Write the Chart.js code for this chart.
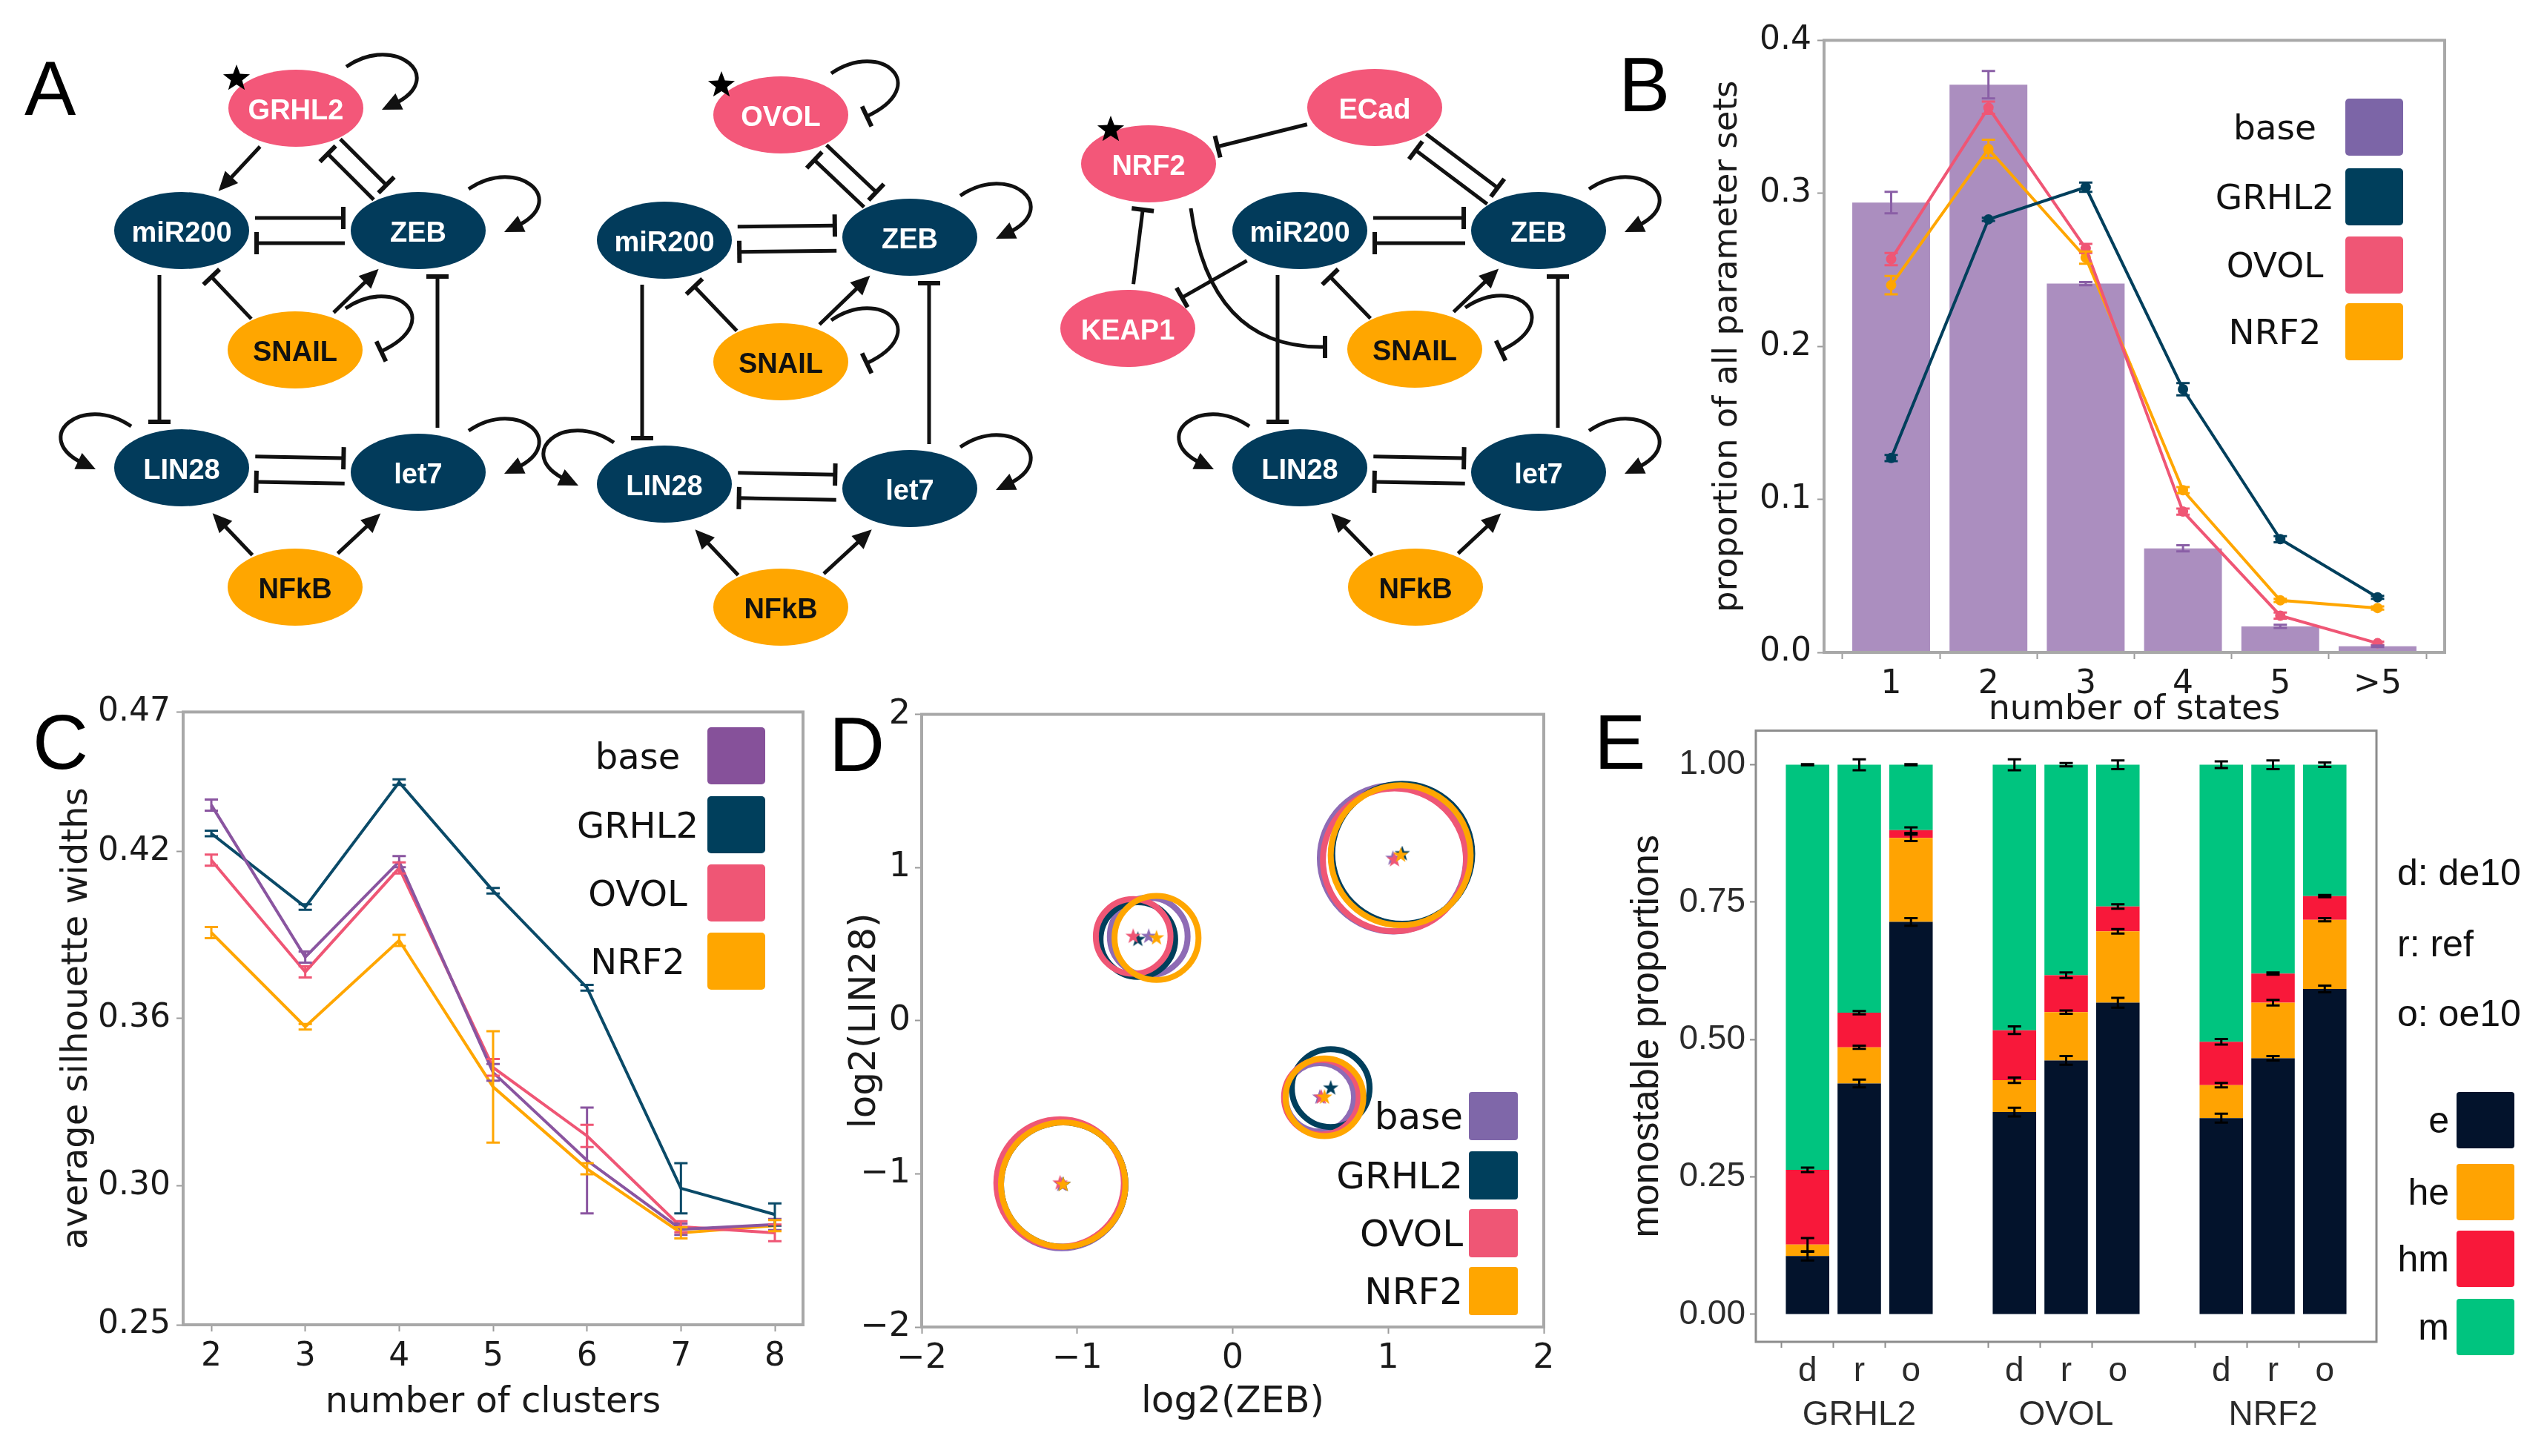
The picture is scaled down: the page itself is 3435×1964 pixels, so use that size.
<!doctype html>
<html lang="en">
<head>
<meta charset="utf-8">
<title>Panels A-E</title>
<style>
  * { margin: 0; padding: 0; }
  body { width: 3435px; height: 1964px; background: #fff; position: relative; overflow: hidden; }
  canvas { position: absolute; }
  #overlay { position: absolute; left: 0; top: 0; pointer-events: none; }
</style>
</head>
<body>
<canvas id="chartB"></canvas>
<canvas id="chartC"></canvas>
<canvas id="chartD"></canvas>
<canvas id="chartE"></canvas>
<svg id="overlay" width="3435" height="1964" xmlns="http://www.w3.org/2000/svg"></svg>
<script src="https://cdn.jsdelivr.net/npm/chart.js/dist/chart.umd.min.js"></script>
<script>
// ---- data: panel B (number of states) ----
const stateLabels = ['1', '2', '3', '4', '5', '>5'];
const baseStates = [0.294, 0.371, 0.241, 0.068, 0.017, 0.004];
const baseStatesErr = [0.007, 0.009, 0.001, 0.002, 0.001, 0.0005];
const grhl2States = [0.127, 0.283, 0.304, 0.172, 0.074, 0.036];
const grhl2StatesErr = [0.002, 0.001, 0.003, 0.004, 0.002, 0.001];
const ovolStates = [0.257, 0.356, 0.264, 0.092, 0.024, 0.006];
const ovolStatesErr = [0.004, 0.004, 0.003, 0.002, 0.002, 0.001];
const nrf2States = [0.240, 0.329, 0.258, 0.106, 0.034, 0.029];
const nrf2StatesErr = [0.006, 0.006, 0.004, 0.002, 0.001, 0.001];

// ---- data: panel C (silhouette widths) ----
const clusterCounts = [2, 3, 4, 5, 6, 7, 8];
const silTicks = [0.25, 0.30, 0.36, 0.42, 0.47];
const baseSil = [0.4366, 0.382, 0.4163, 0.3406, 0.309, 0.2843, 0.286];
const baseSilErr = [0.002, 0.002, 0.002, 0.003, 0.019, 0.002, 0.002];
const grhl2Sil = [0.4264, 0.400, 0.4448, 0.4058, 0.371, 0.299, 0.2896];
const grhl2SilErr = [0.001, 0.001, 0.001, 0.001, 0.001, 0.009, 0.004];
const ovolSil = [0.4168, 0.3767, 0.414, 0.3424, 0.3178, 0.2852, 0.283];
const ovolSilErr = [0.002, 0.002, 0.002, 0.003, 0.004, 0.002, 0.003];
const nrf2Sil = [0.3908, 0.357, 0.388, 0.3354, 0.306, 0.283, 0.2856];
const nrf2SilErr = [0.002, 0.001, 0.002, 0.020, 0.002, 0.002, 0.002];

// ---- data: panel D (cluster centres and radii, log2 units) ----
const baseZeb = [-1.10, -0.54, 0.56, 1.03];
const baseLin = [-1.07, 0.55, -0.50, 1.06];
const baseRad = [0.41, 0.25, 0.22, 0.47];
const grhl2Zeb = [-1.09, -0.61, 0.63, 1.09];
const grhl2Lin = [-1.07, 0.53, -0.44, 1.09];
const grhl2Rad = [0.40, 0.24, 0.25, 0.45];
const ovolZeb = [-1.11, -0.64, 0.57, 1.04];
const ovolLin = [-1.06, 0.55, -0.50, 1.05];
const ovolRad = [0.41, 0.24, 0.24, 0.46];
const nrf2Zeb = [-1.09, -0.49, 0.59, 1.08];
const nrf2Lin = [-1.07, 0.54, -0.50, 1.08];
const nrf2Rad = [0.40, 0.27, 0.25, 0.45];

// ---- data: panel E (monostable proportions, cumulative tops) ----
const eGroups = ['GRHL2', 'OVOL', 'NRF2'];
const eConds = ['d', 'r', 'o'];
const eTop = [0.106, 0.420, 0.714, 0.368, 0.462, 0.567, 0.357, 0.466, 0.592];
const heTop = [0.127, 0.486, 0.867, 0.426, 0.550, 0.697, 0.417, 0.567, 0.718];
const hmTop = [0.263, 0.549, 0.881, 0.517, 0.617, 0.742, 0.496, 0.620, 0.761];
const mTop = [1, 1, 1, 1, 1, 1, 1, 1, 1];
const eTopErr = [0.008, 0.007, 0.007, 0.008, 0.008, 0.009, 0.008, 0.004, 0.006];
const heTopErr = [0.012, 0.003, 0.006, 0.005, 0.003, 0.004, 0.004, 0.005, 0.003];
const hmTopErr = [0.004, 0.003, 0.005, 0.007, 0.005, 0.004, 0.005, 0.002, 0.002];
const mTopErr = [0.001, 0.010, 0.001, 0.010, 0.003, 0.008, 0.006, 0.008, 0.004];

const COL = { base: '#8a55a0', grhl2: '#003f5c', ovol: '#ef5675', nrf2: '#ffa600' };
const ARIAL = '"Liberation Sans", Arial, sans-serif';

Chart.defaults.font.family = '"DejaVu Sans", sans-serif';
Chart.defaults.color = '#1a1a1a';
Chart.defaults.animation = false;

function place(id, left, top, w, h) {
  const c = document.getElementById(id);
  c.width = w; c.height = h;
  c.style.left = left + 'px'; c.style.top = top + 'px';
  c.style.width = w + 'px'; c.style.height = h + 'px';
  return c;
}

// box round the plot area
const frame = {
  id: 'frame',
  afterDatasetsDraw(chart, args, o) {
    const { ctx, chartArea: a } = chart;
    ctx.save();
    ctx.strokeStyle = o.color || '#ababab';
    ctx.lineWidth = o.width || 4;
    ctx.strokeRect(a.left, a.top, a.right - a.left, a.bottom - a.top);
    ctx.restore();
  }
};

// vertical error bars from dataset.errors (and dataset.tops for stacked bars)
const errorBars = {
  id: 'errorBars',
  afterDatasetsDraw(chart, args, o) {
    const ctx = chart.ctx, y = chart.scales.y;
    ctx.save();
    chart.data.datasets.forEach((ds, di) => {
      if (!ds.errors) return;
      const meta = chart.getDatasetMeta(di);
      meta.data.forEach((el, i) => {
        let v = ds.tops ? ds.tops[i] : ds.data[i];
        if (v && typeof v === 'object') v = v.y;
        const e = ds.errors[i];
        if (v == null || e == null) return;
        const y1 = y.getPixelForValue(v - e), y2 = y.getPixelForValue(v + e);
        const cap = o.cap || 9;
        ctx.strokeStyle = ds.errColor || ds.borderColor;
        ctx.lineWidth = o.width || 3;
        ctx.beginPath();
        ctx.moveTo(el.x, y1); ctx.lineTo(el.x, y2);
        ctx.moveTo(el.x - cap, y1); ctx.lineTo(el.x + cap, y1);
        ctx.moveTo(el.x - cap, y2); ctx.lineTo(el.x + cap, y2);
        ctx.stroke();
      });
    });
    ctx.restore();
  }
};

const tickGrid = { display: true, drawOnChartArea: false, drawTicks: true, tickLength: 9, tickWidth: 2, tickColor: '#9a9a9a', color: 'rgba(0,0,0,0)' };
const pts = arr => arr.map((v, i) => ({ x: i, y: v }));

// ---------------- panel B ----------------
new Chart(place('chartB', 2260, 20, 1077, 970), {
  type: 'bar',
  data: {
    datasets: [
      { type: 'line', label: 'GRHL2', data: pts(grhl2States), errors: grhl2StatesErr, borderColor: COL.grhl2, backgroundColor: COL.grhl2, borderWidth: 4, pointRadius: 5, order: 1 },
      { type: 'line', label: 'OVOL', data: pts(ovolStates), errors: ovolStatesErr, borderColor: COL.ovol, backgroundColor: COL.ovol, borderWidth: 4, pointRadius: 5, order: 2 },
      { type: 'line', label: 'NRF2', data: pts(nrf2States), errors: nrf2StatesErr, borderColor: COL.nrf2, backgroundColor: COL.nrf2, borderWidth: 4, pointRadius: 5, order: 3 },
      { type: 'bar', label: 'base', data: pts(baseStates), errors: baseStatesErr, errColor: '#8a5fa6', backgroundColor: 'rgba(128,84,158,0.66)', barPercentage: 0.8, categoryPercentage: 1, order: 4 }
    ]
  },
  options: {
    responsive: false, devicePixelRatio: 1,
    layout: { padding: { top: 30, right: 40, left: 0, bottom: 0 } },
    plugins: { legend: { display: false }, tooltip: { enabled: false }, frame: { color: '#a8a8a8', width: 4 } },
    scales: {
      x: {
        type: 'linear', min: -0.69, max: 5.69, offset: false,
        afterBuildTicks: s => { s.ticks = stateLabels.map((l, i) => ({ value: i })); },
        afterFit: s => { s.height = 110; },
        ticks: { callback: v => stateLabels[v], font: { size: 44 }, padding: 8, maxRotation: 0 },
        grid: tickGrid, border: { display: false },
        title: { display: true, text: 'number of states', font: { size: 46 }, padding: { top: 0, bottom: 4 } }
      },
      y: {
        min: 0, max: 0.4,
        afterBuildTicks: s => { s.ticks = [0, 0.1, 0.2, 0.3, 0.4].map(v => ({ value: v })); },
        afterFit: s => { s.width = 200; },
        ticks: { callback: v => v.toFixed(1), font: { size: 44 }, padding: 8 },
        grid: tickGrid, border: { display: false },
        title: { display: true, text: 'proportion of all parameter sets', font: { size: 45 }, padding: { top: 43, bottom: 0 } }
      }
    }
  },
  plugins: [frame, errorBars]
});

// ---------------- panel C ----------------
const cpts = arr => arr.map((v, i) => ({ x: clusterCounts[i], y: v }));
new Chart(place('chartC', 20, 926, 1103, 1009), {
  type: 'line',
  data: {
    datasets: [
      { label: 'base', data: cpts(baseSil), errors: baseSilErr, borderColor: COL.base, borderWidth: 4, pointRadius: 0 },
      { label: 'GRHL2', data: cpts(grhl2Sil), errors: grhl2SilErr, borderColor: '#0a4a68', borderWidth: 4, pointRadius: 0 },
      { label: 'OVOL', data: cpts(ovolSil), errors: ovolSilErr, borderColor: COL.ovol, borderWidth: 4, pointRadius: 0 },
      { label: 'NRF2', data: cpts(nrf2Sil), errors: nrf2SilErr, borderColor: COL.nrf2, borderWidth: 4, pointRadius: 0 }
    ]
  },
  options: {
    responsive: false, devicePixelRatio: 1,
    layout: { padding: { top: 30, right: 40, left: 0, bottom: 0 } },
    plugins: { legend: { display: false }, tooltip: { enabled: false }, frame: { color: '#a8a8a8', width: 4 } },
    scales: {
      x: {
        type: 'linear', min: 1.7, max: 8.3,
        afterBuildTicks: s => { s.ticks = clusterCounts.map(v => ({ value: v })); },
        afterFit: s => { s.height = 148; },
        ticks: { callback: v => String(v), font: { size: 44 }, padding: 8, maxRotation: 0 },
        grid: tickGrid, border: { display: false },
        title: { display: true, text: 'number of clusters', font: { size: 48 }, padding: { top: 0, bottom: 14 } }
      },
      y: {
        min: 0.25, max: 0.47,
        afterBuildTicks: s => { s.ticks = silTicks.map(v => ({ value: v })); },
        afterFit: s => { s.width = 227; },
        ticks: { callback: v => v.toFixed(2), font: { size: 44 }, padding: 8 },
        grid: tickGrid, border: { display: false },
        title: { display: true, text: 'average silhouette widths', font: { size: 48 }, padding: { top: 56, bottom: 0 } }
      }
    }
  },
  plugins: [frame, errorBars]
});

// ---------------- panel D ----------------
function starImage(color, size) {
  const c = document.createElement('canvas');
  c.width = c.height = size;
  const g = c.getContext('2d');
  g.fillStyle = color;
  g.beginPath();
  for (let i = 0; i < 10; i++) {
    const ang = -Math.PI / 2 + i * Math.PI / 5;
    const rr = i % 2 === 0 ? size / 2 : size / 5;
    g.lineTo(size / 2 + rr * Math.cos(ang), size / 2 + rr * Math.sin(ang));
  }
  g.closePath();
  g.fill();
  return c;
}
const pxPerUnit = chart => Math.abs(chart.scales.x.getPixelForValue(1) - chart.scales.x.getPixelForValue(0));
const dSeries = [
  { name: 'base', zeb: baseZeb, lin: baseLin, rad: baseRad, color: '#8e6bb5' },
  { name: 'GRHL2', zeb: grhl2Zeb, lin: grhl2Lin, rad: grhl2Rad, color: COL.grhl2 },
  { name: 'OVOL', zeb: ovolZeb, lin: ovolLin, rad: ovolRad, color: COL.ovol },
  { name: 'NRF2', zeb: nrf2Zeb, lin: nrf2Lin, rad: nrf2Rad, color: COL.nrf2 }
];
const dSets = [];
// later series drawn on top (lower order = drawn last)
dSeries.forEach((s, i) => {
  dSets.push({
    label: s.name,
    order: 10 - i,
    data: s.zeb.map((x, k) => ({ x, y: s.lin[k], r: s.rad[k] })),
    pointRadius: ctx => ctx.raw ? ctx.raw.r * pxPerUnit(ctx.chart) : 0,
    pointBorderWidth: 8, pointBorderColor: s.color, pointBackgroundColor: 'rgba(0,0,0,0)'
  });
});
dSeries.forEach((s, i) => {
  dSets.push({
    label: s.name + ' centre',
    order: 4 - i,
    data: s.zeb.map((x, k) => ({ x, y: s.lin[k] })),
    pointStyle: starImage(s.color, 22), pointRadius: 11
  });
});
const minus = v => String(v).replace('-', '\u2212');
new Chart(place('chartD', 1100, 930, 1022, 1005), {
  type: 'scatter',
  data: { datasets: dSets },
  options: {
    responsive: false, devicePixelRatio: 1,
    layout: { padding: { top: 30, right: 40, left: 0, bottom: 0 } },
    plugins: { legend: { display: false }, tooltip: { enabled: false }, frame: { color: '#a8a8a8', width: 4 } },
    scales: {
      x: {
        type: 'linear', min: -2, max: 2,
        afterBuildTicks: s => { s.ticks = [-2, -1, 0, 1, 2].map(v => ({ value: v })); },
        afterFit: s => { s.height = 145; },
        ticks: { callback: minus, font: { size: 46 }, padding: 6, maxRotation: 0 },
        grid: tickGrid, border: { display: false },
        title: { display: true, text: 'log2(ZEB)', font: { size: 50 }, padding: { top: 0, bottom: 13 } }
      },
      y: {
        type: 'linear', min: -2, max: 2,
        afterBuildTicks: s => { s.ticks = [-2, -1, 0, 1, 2].map(v => ({ value: v })); },
        afterFit: s => { s.width = 143; },
        ticks: { callback: minus, font: { size: 46 }, padding: 6 },
        grid: tickGrid, border: { display: false },
        title: { display: true, text: 'log2(LIN28)', font: { size: 50 }, padding: { top: 37, bottom: 0 } }
      }
    }
  },
  plugins: [frame]
});

// ---------------- panel E ----------------
const eSlots = [null, 0, 1, 2, null, 3, 4, 5, null, 6, 7, 8, null];
const eLabels = eSlots.map(s => s === null ? '' : [eConds[s % 3], s % 3 === 1 ? eGroups[Math.floor(s / 3)] : '']);
const slotted = arr => eSlots.map(s => s === null ? null : arr[s]);
const segE = eTop;
const segHe = heTop.map((v, i) => v - eTop[i]);
const segHm = hmTop.map((v, i) => v - heTop[i]);
const segM = mTop.map((v, i) => v - hmTop[i]);
const eBar = { barPercentage: 0.84, categoryPercentage: 1, borderWidth: 0, errColor: '#000' };
new Chart(place('chartE', 2170, 952, 1055, 998), {
  type: 'bar',
  data: {
    labels: eLabels,
    datasets: [
      Object.assign({ label: 'e', data: slotted(segE), tops: slotted(eTop), errors: slotted(eTopErr), backgroundColor: '#03132c' }, eBar),
      Object.assign({ label: 'he', data: slotted(segHe), tops: slotted(heTop), errors: slotted(heTopErr), backgroundColor: '#ffa302' }, eBar),
      Object.assign({ label: 'hm', data: slotted(segHm), tops: slotted(hmTop), errors: slotted(hmTopErr), backgroundColor: '#f8183a' }, eBar),
      Object.assign({ label: 'm', data: slotted(segM), tops: slotted(mTop), errors: slotted(mTopErr), backgroundColor: '#00c47f' }, eBar)
    ]
  },
  options: {
    responsive: false, devicePixelRatio: 1,
    layout: { padding: { top: 30, right: 20, left: 0, bottom: 0 } },
    plugins: { legend: { display: false }, tooltip: { enabled: false }, frame: { color: '#8c8c8c', width: 3 }, errorBars: { cap: 9, width: 3 } },
    scales: {
      x: {
        stacked: true, offset: false,
        afterFit: s => { s.height = 140; },
        ticks: { font: { size: 46, family: ARIAL, lineHeight: 1.3 }, color: '#2b2b2b', padding: 2, maxRotation: 0, autoSkip: false },
        grid: Object.assign({}, tickGrid, { tickColor: c => eSlots[c.index] === null ? 'rgba(0,0,0,0)' : '#8c8c8c', tickLength: 8 }),
        border: { display: false }
      },
      y: {
        stacked: true, min: -0.05, max: 1.062,
        afterBuildTicks: s => { s.ticks = [0, 0.25, 0.5, 0.75, 1].map(v => ({ value: v })); },
        afterFit: s => { s.width = 198; },
        ticks: { callback: v => v.toFixed(2), font: { size: 46, family: ARIAL }, color: '#2b2b2b', padding: 6 },
        grid: Object.assign({}, tickGrid, { tickColor: '#8c8c8c', tickLength: 8 }),
        border: { display: false },
        title: { display: true, text: 'monostable proportions', font: { size: 52, family: ARIAL }, color: '#1a1a1a', padding: { top: 20, bottom: 0 } }
      }
    }
  },
  plugins: [frame, errorBars]
});

// ---------------- overlay: panel letters, legends, network diagrams ----------------
const NS = 'http://www.w3.org/2000/svg';
const svg = document.getElementById('overlay');
function el(tag, attrs, parent) {
  const e = document.createElementNS(NS, tag);
  for (const k in attrs) e.setAttribute(k, attrs[k]);
  (parent || svg).appendChild(e);
  return e;
}
function text(x, y, str, size, opts) {
  const o = Object.assign({ family: 'DejaVu Sans', anchor: 'start', fill: '#111', weight: 'normal' }, opts || {});
  const t = el('text', { x, y, 'font-family': o.family, 'font-size': size, 'font-weight': o.weight, 'text-anchor': o.anchor, fill: o.fill, 'dominant-baseline': o.baseline || 'alphabetic' });
  t.textContent = str;
  return t;
}

// panel letters
[['A', 33, 155], ['B', 2183, 150], ['C', 44, 1037], ['D', 1118, 1040], ['E', 2150, 1037]].forEach(([l, x, y]) => text(x, y, l, 104, { family: 'Liberation Sans', fill: '#000' }));

// legends
const legNames = ['base', 'GRHL2', 'OVOL', 'NRF2'];
// B
[['#7c65a7', 133], [COL.grhl2, 227], [COL.ovol, 319], [COL.nrf2, 409]].forEach(([c, y], i) => {
  el('rect', { x: 3163, y, width: 78, height: 77, rx: 5, fill: c });
  text(3068, y + 38, legNames[i], 47, { anchor: 'middle', baseline: 'central' });
});
// C
[['#86519a', 981], [COL.grhl2, 1074], [COL.ovol, 1166], [COL.nrf2, 1258]].forEach(([c, y], i) => {
  el('rect', { x: 954, y, width: 78, height: 77, rx: 5, fill: c });
  text(860, y + 39, legNames[i], 48, { anchor: 'middle', baseline: 'central' });
});
// D
[['#7f67a9', 1473], [COL.grhl2, 1553], [COL.ovol, 1631], [COL.nrf2, 1709]].forEach(([c, y], i) => {
  el('rect', { x: 1981, y, width: 66, height: 65, rx: 4, fill: c });
  text(1973, y + 33, legNames[i], 50, { anchor: 'end', baseline: 'central' });
});
// E
[['d: de10', 1177], ['r: ref', 1273], ['o: oe10', 1367]].forEach(([s, y]) => text(3233, y, s, 50, { family: 'Liberation Sans', baseline: 'central' }));
[['e', '#03132c', 1473], ['he', '#ffa302', 1570], ['hm', '#f8183a', 1660], ['m', '#00c47f', 1752]].forEach(([s, c, y]) => {
  el('rect', { x: 3313, y, width: 78, height: 76, rx: 4, fill: c });
  text(3303, y + 38, s, 50, { family: 'Liberation Sans', anchor: 'end', baseline: 'central' });
});

// network diagrams (panel A)
const RX = 91, RY = 52, INK = '#111';
const NODE_COL = { pink: '#f35779', navy: '#023b5b', orange: '#ffa600' };
const gNet = el('g', {});
function node(n) {
  el('ellipse', { cx: n.x, cy: n.y, rx: RX, ry: RY, fill: NODE_COL[n.kind] }, gNet);
  text(n.x, n.y + 2, n.name, 38, { family: 'Liberation Sans', weight: 'bold', anchor: 'middle', baseline: 'central', fill: n.kind === 'orange' ? '#111' : '#fff' });
}
function head(x, y, ux, uy, type) {
  const px = -uy, py = ux;
  if (type === 'a') {
    const L = 26, W = 12;
    el('polygon', { points: `${x},${y} ${x - ux * L + px * W},${y - uy * L + py * W} ${x - ux * L - px * W},${y - uy * L - py * W}`, fill: INK }, gNet);
  } else {
    const W = 15;
    el('line', { x1: x + px * W, y1: y + py * W, x2: x - px * W, y2: y - py * W, stroke: INK, 'stroke-width': 6 }, gNet);
  }
}
function edge(a, b, type, off) {
  off = off || 0;
  const dx = b.x - a.x, dy = b.y - a.y, L = Math.hypot(dx, dy);
  const ux = dx / L, uy = dy / L, px = -uy, py = ux;
  const t = 1 / Math.sqrt((ux / RX) ** 2 + (uy / RY) ** 2);
  const sx = a.x + ux * (t + 8) + px * off, sy = a.y + uy * (t + 8) + py * off;
  const ex = b.x - ux * (t + 10) + px * off, ey = b.y - uy * (t + 10) + py * off;
  const back = type === 'a' ? 20 : 0;
  el('line', { x1: sx, y1: sy, x2: ex - ux * back, y2: ey - uy * back, stroke: INK, 'stroke-width': 5 }, gNet);
  head(ex, ey, ux, uy, type);
}
function loop(n, side, type) {
  const s = side === 'right' ? 1 : -1;
  const p0 = [n.x + s * 68, n.y - 56], p1 = [n.x + s * 135, n.y - 102], p2 = [n.x + s * 205, n.y - 40], p3 = [n.x + s * 116, n.y + 2];
  const dx = p3[0] - p2[0], dy = p3[1] - p2[1], L = Math.hypot(dx, dy), ux = dx / L, uy = dy / L;
  const back = type === 'a' ? 18 : 0;
  el('path', { d: `M${p0} C${p1} ${p2} ${p3[0] - ux * back},${p3[1] - uy * back}`, fill: 'none', stroke: INK, 'stroke-width': 5 }, gNet);
  head(p3[0], p3[1], ux, uy, type);
}
function star(x, y, r) {
  let pts = '';
  for (let i = 0; i < 10; i++) {
    const ang = -Math.PI / 2 + i * Math.PI / 5, rr = i % 2 === 0 ? r : r * 0.42;
    pts += `${x + rr * Math.cos(ang)},${y + rr * Math.sin(ang)} `;
  }
  el('polygon', { points: pts, fill: '#000' }, gNet);
}
function core(N) {
  edge(N.mir, N.zeb, 't', -17); edge(N.zeb, N.mir, 't', -17);
  edge(N.lin, N.let7, 't', -17); edge(N.let7, N.lin, 't', -17);
  edge(N.snail, N.mir, 't', -14);
  edge(N.snail, N.zeb, 'a', 0);
  edge(N.mir, N.lin, 't', 30);
  edge(N.let7, N.zeb, 't', 26);
  edge(N.nfkb, N.lin, 'a', -12);
  edge(N.nfkb, N.let7, 'a', 6);
  loop(N.zeb, 'right', 'a');
  loop(N.snail, 'right', 't');
  loop(N.lin, 'left', 'a');
  loop(N.let7, 'right', 'a');
}
function mk(name, x, y, kind) { return { name, x, y, kind }; }

// network 1 (GRHL2)
const N1 = {
  top: mk('GRHL2', 399, 146, 'pink'), mir: mk('miR200', 245, 311, 'navy'), zeb: mk('ZEB', 564, 311, 'navy'),
  snail: mk('SNAIL', 398, 472, 'orange'), lin: mk('LIN28', 245, 631, 'navy'), let7: mk('let7', 564, 637, 'navy'),
  nfkb: mk('NFkB', 398, 792, 'orange')
};
// network 2 (OVOL)
const N2 = {
  top: mk('OVOL', 1053, 155, 'pink'), mir: mk('miR200', 896, 324, 'navy'), zeb: mk('ZEB', 1227, 320, 'navy'),
  snail: mk('SNAIL', 1053, 488, 'orange'), lin: mk('LIN28', 896, 653, 'navy'), let7: mk('let7', 1227, 659, 'navy'),
  nfkb: mk('NFkB', 1053, 819, 'orange')
};
// network 3 (NRF2)
const N3 = {
  ecad: mk('ECad', 1854, 145, 'pink'), nrf2: mk('NRF2', 1549, 221, 'pink'), keap: mk('KEAP1', 1521, 443, 'pink'),
  mir: mk('miR200', 1753, 311, 'navy'), zeb: mk('ZEB', 2075, 311, 'navy'), snail: mk('SNAIL', 1908, 471, 'orange'),
  lin: mk('LIN28', 1753, 631, 'navy'), let7: mk('let7', 2075, 637, 'navy'), nfkb: mk('NFkB', 1909, 792, 'orange')
};

core(N1);
edge(N1.top, N1.mir, 'a', 0);
edge(N1.top, N1.zeb, 't', -13); edge(N1.zeb, N1.top, 't', -13);
loop(N1.top, 'right', 'a');

core(N2);
edge(N2.top, N2.zeb, 't', -13); edge(N2.zeb, N2.top, 't', -13);
loop(N2.top, 'right', 't');

core(N3);
edge(N3.ecad, N3.nrf2, 't', 0);
edge(N3.ecad, N3.zeb, 't', -13); edge(N3.zeb, N3.ecad, 't', -13);
edge(N3.keap, N3.nrf2, 't', 0);
edge(N3.mir, N3.keap, 't', 0);
el('path', { d: 'M1606,281 Q1632,470 1785,468', fill: 'none', stroke: INK, 'stroke-width': 5 }, gNet);
head(1787, 468, 1, 0, 't');

[N1, N2, N3].forEach(N => Object.values(N).forEach(node));
star(N1.top.x - 80, N1.top.y - 40, 19);
star(N2.top.x - 80, N2.top.y - 40, 19);
star(N3.nrf2.x - 51, N3.nrf2.y - 46, 19);
</script>
</body>
</html>
